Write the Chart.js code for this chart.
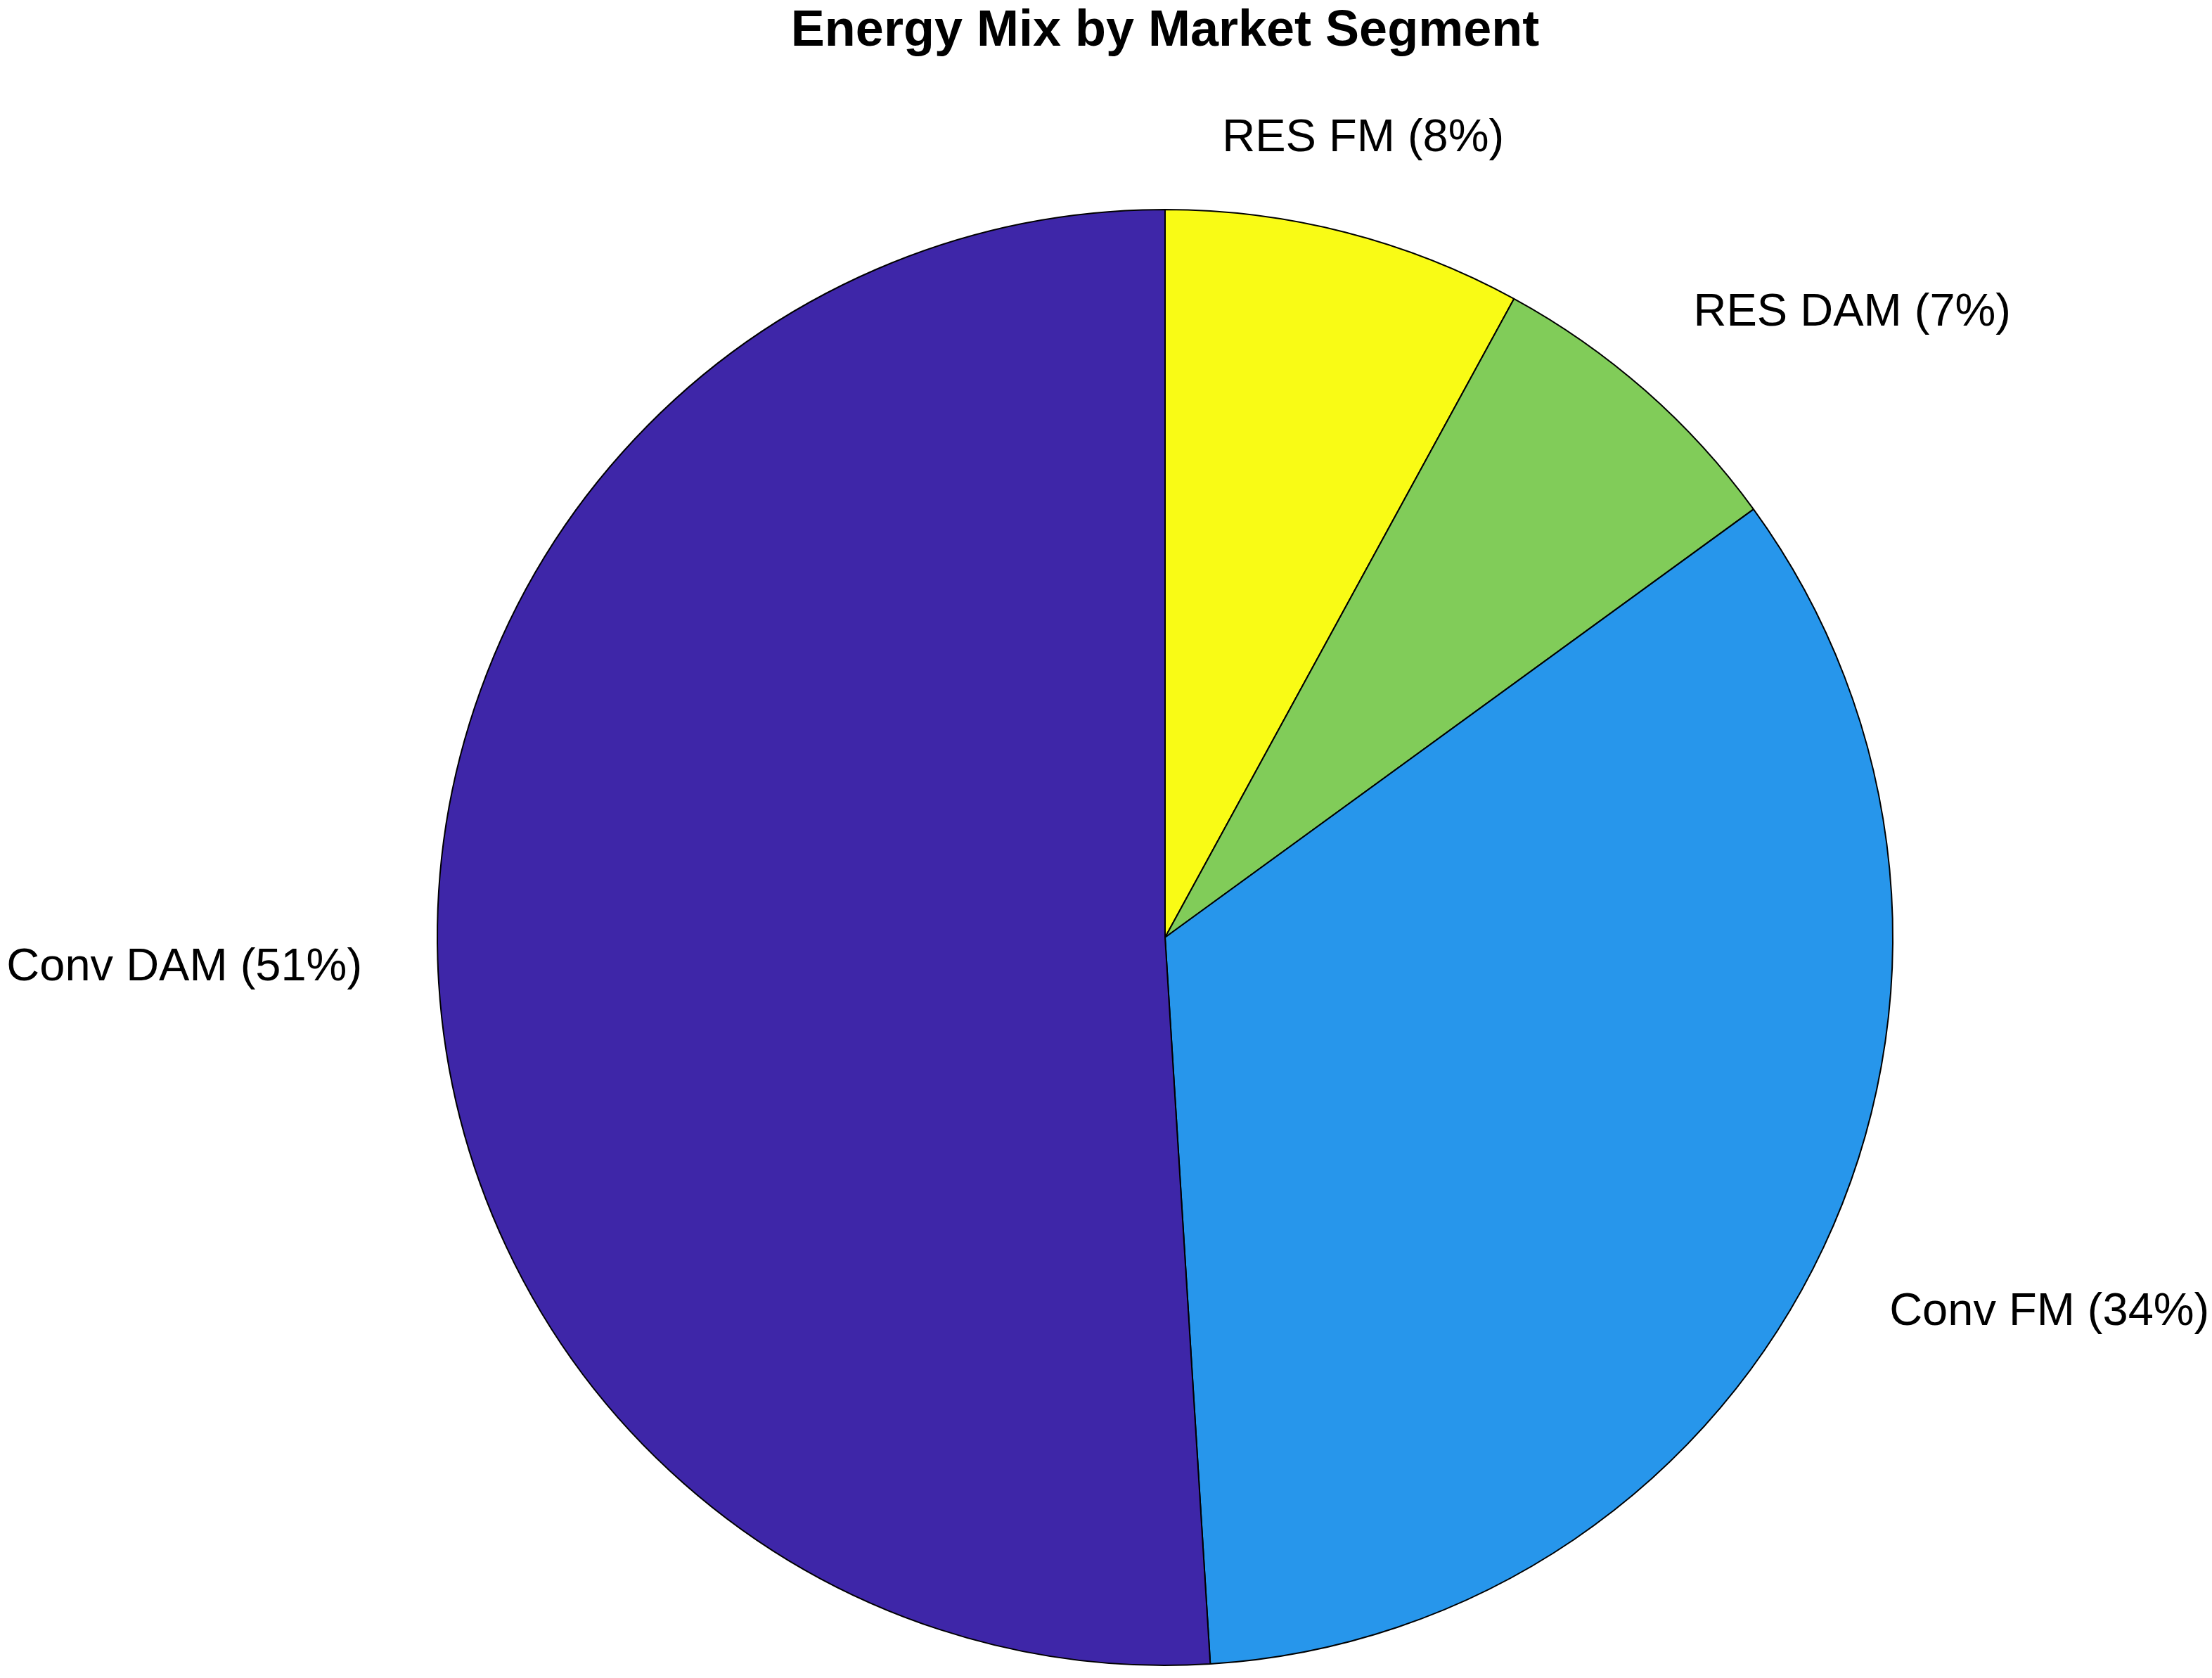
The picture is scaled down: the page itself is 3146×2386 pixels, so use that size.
<!DOCTYPE html>
<html>
<head>
<meta charset="utf-8">
<title>Energy Mix by Market Segment</title>
<script src="https://cdn.jsdelivr.net/npm/chart.js@4"></script>
<style>
  html, body { margin: 0; padding: 0; background: #ffffff; }
  canvas { display: block; }
</style>
</head>
<body>
<canvas id="graph" width="3146" height="2386"></canvas>
<script>
// slices, clockwise from 12 o'clock
const segments = ["RES FM", "RES DAM", "Conv FM", "Conv DAM"];
const shares = [7.96, 7.03, 34.02, 50.99];
const sliceColors = ["rgb(249,251,21)", "rgb(129,204,89)", "rgb(39,150,235)", "rgb(62,38,168)"];
const chartTitle = "Energy Mix by Market Segment";

const total = shares.reduce((a, b) => a + b, 0);
const sliceLabels = segments.map((s, i) => s + " (" + Math.round(shares[i] / total * 100) + "%)");

const FONT = "'Liberation Sans', Arial, Helvetica, sans-serif";

// matlab style text: title on top, labels just outside the pie
const pieText = {
    id: "pieText",
    afterDraw(chart) {
        const ctx = chart.ctx;
        const arcs = chart.getDatasetMeta(0).data;
        ctx.save();
        ctx.fillStyle = "#000000";

        ctx.font = "bold 72px " + FONT;
        ctx.textAlign = "center";
        ctx.textBaseline = "alphabetic";
        ctx.fillText(chartTitle, arcs[0].x, 65);

        ctx.font = "65px " + FONT;
        arcs.forEach((arc, i) => {
            const mid = (arc.startAngle + arc.endAngle) / 2;
            const r = arc.outerRadius * 1.1;
            const cx = Math.cos(mid), cy = Math.sin(mid);
            let dx = 0, dy = 0;
            ctx.textAlign = cx > 0.35 ? "left" : (cx < -0.35 ? "right" : "center");
            if (cx < -0.35) dx = -4;
            if (cy < -0.35) {
                ctx.textBaseline = "bottom";
            } else if (cy > 0.35) {
                ctx.textBaseline = "top";
                dy = 16;
            } else {
                ctx.textBaseline = "middle";
                dy = 8;
            }
            ctx.fillText(sliceLabels[i], arc.x + r * cx + dx, arc.y + r * cy + dy);
        });
        ctx.restore();
    },
};

const graph = document.getElementById("graph").getContext("2d");

let myChart = new Chart(graph, {
    type: "pie",
    data: {
        labels: sliceLabels,
        datasets: [
            {
                data: shares,
                backgroundColor: sliceColors,
                borderColor: "#000000",
                borderWidth: 2,
            },
        ],
    },
    options: {
        responsive: false,
        animation: false,
        devicePixelRatio: 1,
        layout: {
            padding: { top: 297, left: 621, right: 453, bottom: 17 },
        },
        plugins: {
            legend: { display: false },
            tooltip: { enabled: false },
            title: { display: false },
        },
    },
    plugins: [pieText],
});
</script>
</body>
</html>
